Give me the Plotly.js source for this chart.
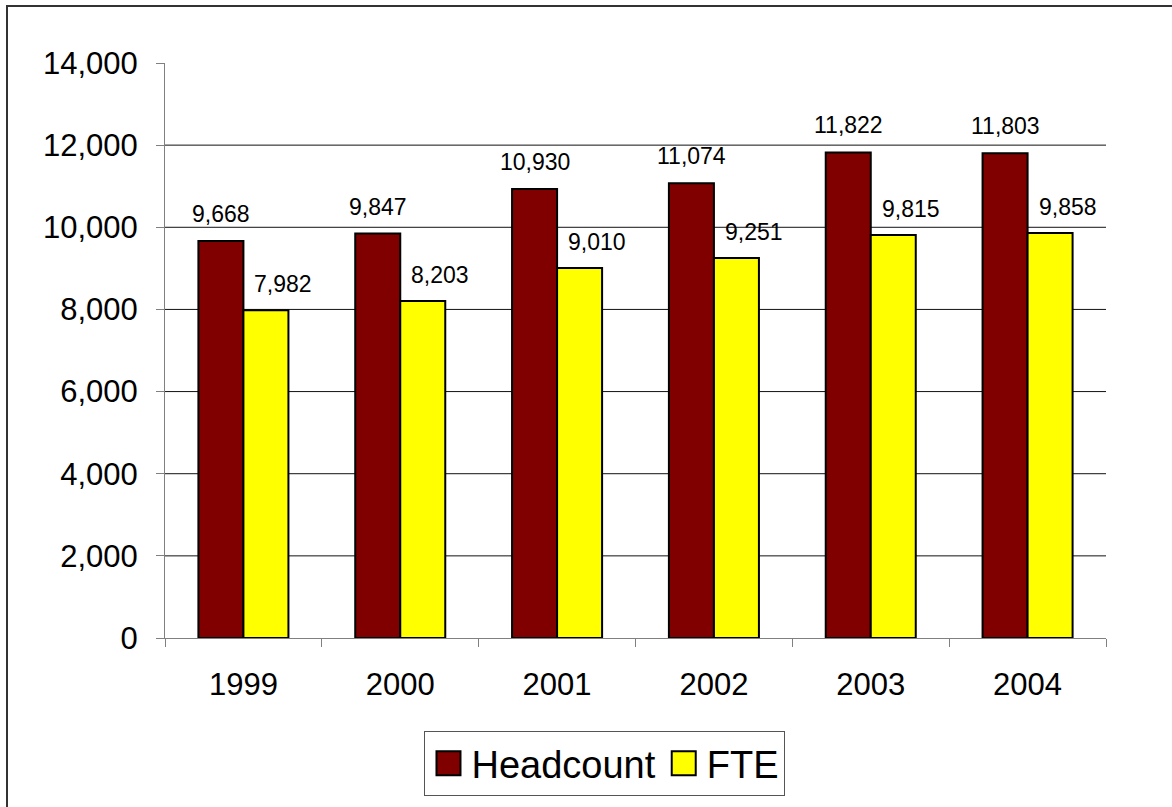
<!DOCTYPE html>
<html>
<head>
<meta charset="utf-8">
<script src="https://cdn.plot.ly/plotly-3.0.1.min.js"></script>
<style>
  html, body { margin: 0; padding: 0; background: #fff; }
  #wrap { position: relative; width: 1172px; height: 807px; overflow: hidden; }
  #chart { width: 1172px; height: 807px; }
  #frame { position: absolute; left: 6px; top: 5px; width: 1300px; height: 1000px;
           border-left: 2px solid #333; border-top: 2px solid #333; pointer-events: none; }
</style>
</head>
<body>
<div id="wrap">
  <div id="chart"></div>
  <div id="frame"></div>
</div>
<script>
// ---- data ----
const years = ['1999', '2000', '2001', '2002', '2003', '2004'];
const headcount = [9668, 9847, 10930, 11074, 11822, 11803];
const fte = [7982, 8203, 9010, 9251, 9815, 9858];
const yTicks = [0, 2000, 4000, 6000, 8000, 10000, 12000, 14000];
const gridValues = [2000, 4000, 6000, 8000, 10000, 12000];

const FONT = 'Arial, "Liberation Sans", sans-serif';

const traces = [
  {
    type: 'bar', name: 'Headcount', x: years, y: headcount,
    marker: { color: '#800000', line: { color: '#000000', width: 2 } },
    hoverinfo: 'skip'
  },
  {
    type: 'bar', name: 'FTE', x: years, y: fte,
    marker: { color: '#FFFF00', line: { color: '#000000', width: 2 } },
    hoverinfo: 'skip'
  }
];

const fmt = v => v.toLocaleString('en-US');

const annotations = [];
years.forEach((yr, i) => {
  annotations.push({
    x: i, y: headcount[i], xref: 'x', yref: 'y', text: fmt(headcount[i]),
    showarrow: false, xshift: -22.5, yshift: 27, yanchor: 'middle', xanchor: 'center',
    font: { family: FONT, size: 23, color: '#000' }
  });
  annotations.push({
    x: i, y: fte[i], xref: 'x', yref: 'y', text: fmt(fte[i]),
    showarrow: false, xshift: 40, yshift: 26, yanchor: 'middle', xanchor: 'center',
    font: { family: FONT, size: 23, color: '#000' }
  });
});

const shapes = gridValues.map(v => ({
  type: 'line', xref: 'paper', yref: 'y', x0: 0, x1: 1, y0: v, y1: v,
  line: { color: '#111', width: 1 }, layer: 'below'
}));

const layout = {
  width: 1172, height: 807,
  margin: { l: 165, r: 66, t: 63, b: 169, autoexpand: false },
  paper_bgcolor: '#ffffff', plot_bgcolor: '#ffffff',
  font: { family: FONT, color: '#000' },
  barmode: 'group', bargap: 0.426, bargroupgap: 0,
  showlegend: true,
  legend: {
    orientation: 'h', xref: 'container', yref: 'container',
    x: 0.5162, xanchor: 'center', y: 0.0942, yanchor: 'top',
    bordercolor: '#555', borderwidth: 1, bgcolor: '#fff',
    font: { family: FONT, size: 38, color: '#000' },
    itemwidth: 36, traceorder: 'normal'
  },
  xaxis: {
    type: 'category', range: [-0.5, years.length - 0.5], autorange: false,
    showline: true, linecolor: '#808080', linewidth: 1,
    ticks: 'outside', tickson: 'boundaries', ticklen: 8, tickcolor: '#808080',
    showgrid: false, zeroline: false, tickangle: 0,
    tickfont: { family: FONT, size: 31, color: '#000' },
    ticklabelstandoff: 19
  },
  yaxis: {
    range: [0, 14000], autorange: false, tickvals: yTicks, ticktext: yTicks.map(fmt),
    showline: true, linecolor: '#808080', linewidth: 1,
    ticks: 'outside', ticklen: 8, tickcolor: '#808080',
    showgrid: false, zeroline: false,
    tickfont: { family: FONT, size: 31, color: '#000' },
    ticklabelstandoff: 12
  },
  annotations: annotations,
  shapes: shapes
};

Plotly.newPlot('chart', traces, layout, { staticPlot: true, displayModeBar: false }).then(() => {
  document.querySelectorAll('.legendpoints path').forEach(p => {
    p.setAttribute('d', 'M12,12H-12V-12H12Z');
    p.style.strokeWidth = '2px';
  });
});
</script>
</body>
</html>
